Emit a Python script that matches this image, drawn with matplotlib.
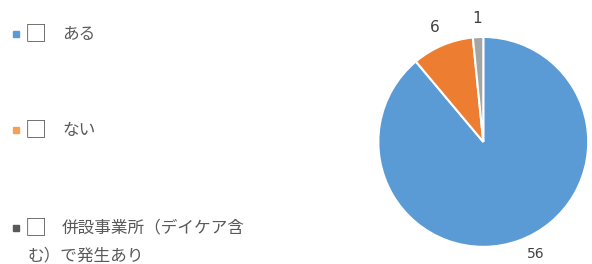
import matplotlib.pyplot as plt
from matplotlib.patches import Rectangle

plt.rcParams['font.family'] = ['Noto Sans CJK JP', 'DejaVu Sans']

categories = ['ある', 'ない', '併設事業所（デイケア含\nむ）で発生あり']
values = [56, 6, 1]
colors = ['#5B9BD5', '#ED7D31', '#A5A5A5']
legend_colors = ['#5B9BD5', '#F5A05A', '#595959']
text_color = '#595959'


def main():
    fig = plt.figure(figsize=(5.92, 2.64), dpi=100)
    W, H = 592, 264

    # pie on the right
    ax = fig.add_axes([0.639, 0.065, 0.3547, 0.795])
    total = sum(values)
    wedges, _, autotexts = ax.pie(
        values, colors=colors, startangle=90, counterclock=False,
        radius=1.0, autopct=lambda p: f'{round(p * total / 100)}',
        pctdistance=1.18, wedgeprops=dict(edgecolor='white', linewidth=1.5),
        textprops=dict(color='#404040', fontsize=11, family='DejaVu Sans'))
    # big slice label sits just under the pie, keep it inside the canvas
    autotexts[0].set_va('top')
    autotexts[0].set_fontsize(10)
    x, y = autotexts[0].get_position()
    autotexts[0].set_position((x + 0.1, -1.0))
    ax.set_xlim(-1, 1)
    ax.set_ylim(-1, 1)
    ax.set_aspect('equal')

    # legend on the left
    rows = [34, 130, 228]
    for y, name, c in zip(rows, categories, legend_colors):
        fig.patches.append(Rectangle((13 / W, 1 - (y + 3) / H), 6 / W, 6 / H,
                                     transform=fig.transFigure, color=c))
        fig.text(25 / W, 1 - y / H, '□', fontsize=16, color=text_color,
                 va='center', ha='left')
        lines = name.split('\n')
        fig.text(62 / W, 1 - y / H, lines[0], fontsize=12, color=text_color,
                 va='center', ha='left')
        if len(lines) > 1:
            fig.text(27 / W, 1 - (y + 28) / H, lines[1], fontsize=12,
                     color=text_color, va='center', ha='left')

    fig.savefig('out.png', dpi=100)


if __name__ == '__main__':
    main()
